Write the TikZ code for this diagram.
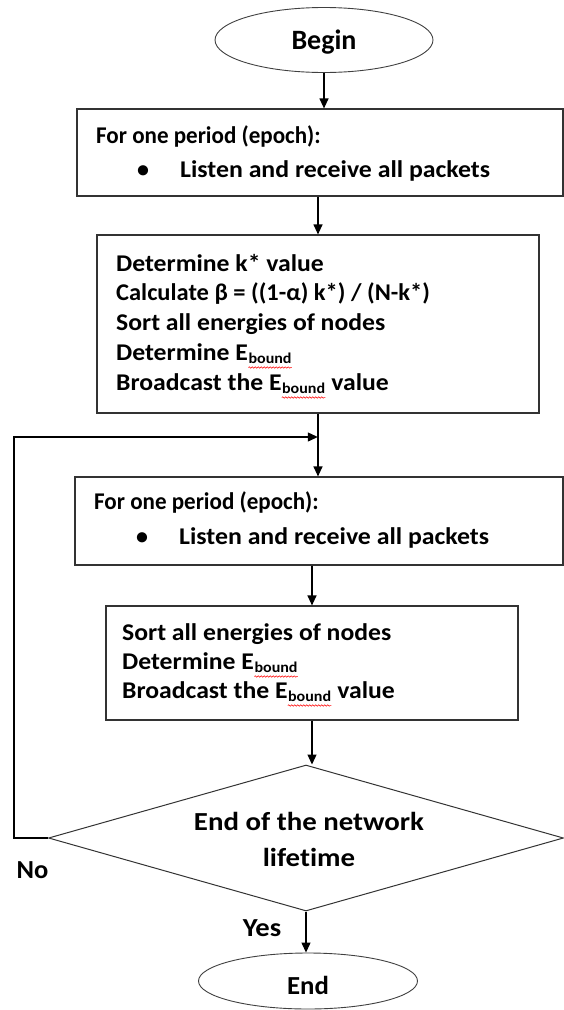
\documentclass[tikz,border=0pt]{standalone}
\usepackage{fontspec}
\usepackage{graphicx}
\setmainfont{Carlito}[Ligatures={NoCommon}]
\usetikzlibrary{arrows.meta,shapes.geometric,decorations.pathmorphing}
\newcommand{\sx}[2]{\scalebox{#1}[1]{#2}}
\newcommand{\Eb}{E\raisebox{-3.5pt}{\fontsize{15}{15}\selectfont\tikz[baseline=(sub.base),x=1pt,y=1pt]{\node[inner sep=0pt, anchor=base] (sub) {bound}; \draw[red, line width=0.5pt, decorate, decoration={snake, amplitude=0.7pt, segment length=2.8pt}] ([yshift=-4pt]sub.base west) -- ([yshift=-4pt]sub.base east);}}}
\tikzset{
  box/.style={draw=black!80, line width=1.2pt, rectangle, inner sep=0pt},
  oval/.style={draw=black!75, line width=0.9pt, ellipse, inner sep=0pt},
  decision/.style={draw=black!80, line width=1.0pt, diamond, inner sep=0pt},
  txt/.style={anchor=base west, inner sep=0pt, font=\fontsize{24}{28}\selectfont\bfseries},
  ctxt/.style={anchor=base, inner sep=0pt, font=\fontsize{24}{28}\selectfont\bfseries},
  big/.style={anchor=base, inner sep=0pt, font=\fontsize{26}{30}\selectfont\bfseries},
  arrow/.style={draw=black, line width=1.2pt, -{Triangle[length=10pt,width=9pt]}}
}
\begin{document}
\begin{tikzpicture}[x=1pt,y=-1pt]
\useasboundingbox (0,0) rectangle (564,1010);
% shapes
\node[oval, minimum width=218pt, minimum height=65pt] (begin) at (324,40) {};
\node[box, minimum width=486pt, minimum height=87pt] (box1) at (320,152.5) {};
\node[box, minimum width=442pt, minimum height=178pt] (box2) at (318,324) {};
\node[box, minimum width=488pt, minimum height=88pt] (box3) at (319,521) {};
\node[box, minimum width=412pt, minimum height=114pt] (box4) at (312,663) {};
\node[decision, minimum width=515pt, minimum height=146pt] (dec) at (306,838) {};
\node[oval, minimum width=219pt, minimum height=56pt] (end) at (308,981) {};
% texts
\node[big, font=\fontsize{28}{32}\selectfont\bfseries] (tbegin) at (324,49) {Begin};
\node[txt] (t1a) at (96,143) {\sx{0.96}{For one period (epoch):}};
\node[txt] (t1b) at (137,177) {\textbullet};
\node[txt] (t1c) at (180,177) {\sx{1.075}{Listen and receive all packets}};
\node[txt] (t2a) at (116,271) {\sx{1.07}{Determine k* value}};
\node[txt] (t2b) at (116,300) {\sx{1.02}{Calculate β = ((1-α) k*) / (N-k*)}};
\node[txt] (t2c) at (116,330) {\sx{1.07}{Sort all energies of nodes}};
\node[txt] (t2d) at (116,360) {\sx{1.07}{Determine \Eb}};
\node[txt] (t2e) at (116,390) {\sx{1.07}{Broadcast the \Eb{} value}};
\node[txt] (t3a) at (94,509) {\sx{0.96}{For one period (epoch):}};
\node[txt] (t3b) at (136,544) {\textbullet};
\node[txt] (t3c) at (179,544) {\sx{1.075}{Listen and receive all packets}};
\node[txt] (t4a) at (122,640) {\sx{1.07}{Sort all energies of nodes}};
\node[txt] (t4b) at (122,669) {\sx{1.07}{Determine \Eb}};
\node[txt] (t4c) at (122,698) {\sx{1.07}{Broadcast the \Eb{} value}};
\node[big] (tdec1) at (309,830) {\sx{1.11}{End of the network}};
\node[big] (tdec2) at (309,866) {\sx{1.11}{lifetime}};
\node[big] (tno) at (32.5,878) {\sx{1.02}{No}};
\node[big] (tyes) at (262,936) {\sx{1.1}{Yes}};
\node[big] (tend) at (308,994) {\sx{1.03}{End}};
% connectors
\coordinate (loopx) at (14,0);
\coordinate (merge) at (317.8,437);
\draw[arrow] (begin.south) -- (begin.south |- box1.north);
\draw[arrow] (box2.north |- box1.south) -- (box2.north);
\draw[arrow] (box2.south) -- (box2.south |- box3.north);
\draw[arrow] (box4.north |- box3.south) -- (box4.north);
\draw[arrow] (box4.south) -- (box4.south |- dec.north);
\draw[arrow] (dec.south) -- (dec.south |- end.north);
\draw[arrow] (dec.west) -- (dec.west -| loopx) |- (merge);
\end{tikzpicture}
\end{document}
